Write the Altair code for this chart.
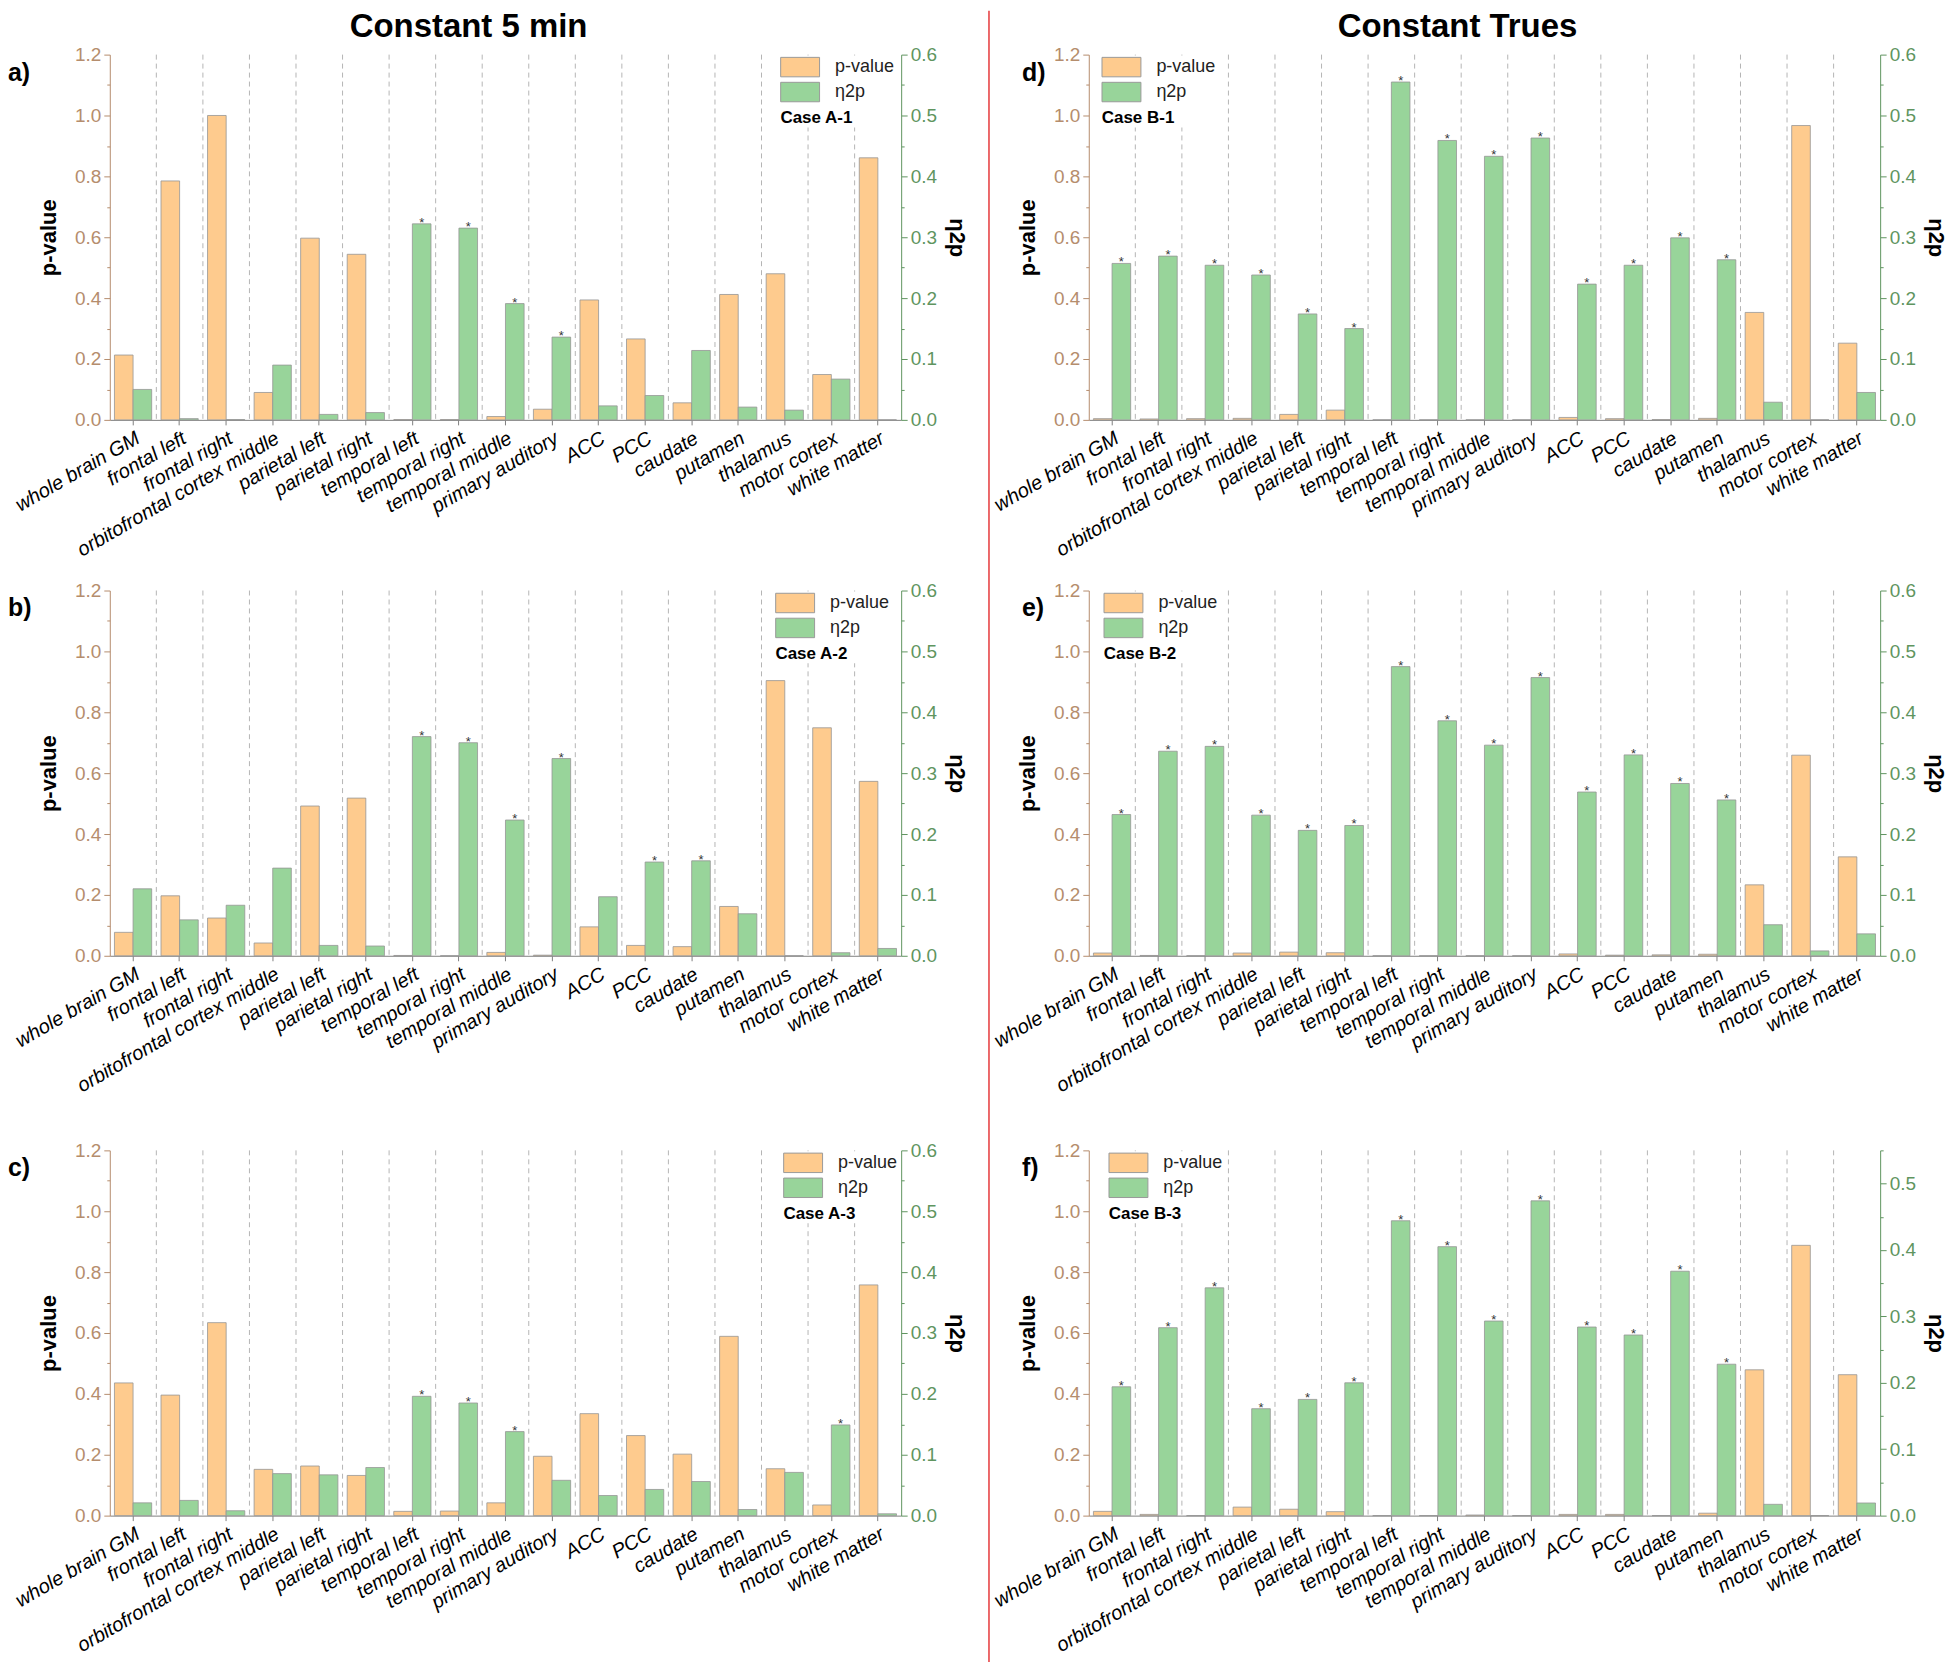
import altair as alt
import pandas as pd

CATEGORIES = ["whole brain GM", "frontal left", "frontal right", "orbitofrontal cortex middle",
              "parietal left", "parietal right", "temporal left", "temporal right",
              "temporal middle", "primary auditory", "ACC", "PCC", "caudate", "putamen",
              "thalamus", "motor cortex", "white matter"]
SERIES = ["p-value", "η2p"]

# Case A-1
P_A1 = [0.213, 0.785, 1.000, 0.090, 0.597, 0.544, 0.001, 0.001, 0.011, 0.035, 0.394, 0.266, 0.056, 0.412, 0.480, 0.149, 0.861]
ETA_A1 = [0.050, 0.002, 0.0005, 0.090, 0.009, 0.012, 0.322, 0.315, 0.191, 0.136, 0.023, 0.040, 0.114, 0.021, 0.016, 0.067, 0.000]
STAR_A1 = [0, 0, 0, 0, 0, 0, 1, 1, 1, 1, 0, 0, 0, 0, 0, 0, 0]
# Case A-2
P_A2 = [0.077, 0.197, 0.124, 0.042, 0.492, 0.518, 0.001, 0.000, 0.011, 0.002, 0.095, 0.034, 0.030, 0.162, 0.904, 0.749, 0.573]
ETA_A2 = [0.110, 0.059, 0.083, 0.144, 0.017, 0.016, 0.360, 0.350, 0.223, 0.324, 0.097, 0.154, 0.156, 0.069, 0.000, 0.005, 0.012]
STAR_A2 = [0, 0, 0, 0, 0, 0, 1, 1, 1, 1, 0, 1, 1, 0, 0, 0, 0]
# Case A-3
P_A3 = [0.436, 0.396, 0.634, 0.152, 0.163, 0.132, 0.014, 0.015, 0.042, 0.195, 0.335, 0.263, 0.202, 0.589, 0.154, 0.035, 0.758]
ETA_A3 = [0.021, 0.025, 0.008, 0.069, 0.067, 0.079, 0.196, 0.185, 0.138, 0.058, 0.033, 0.043, 0.056, 0.010, 0.071, 0.149, 0.003]
STAR_A3 = [0, 0, 0, 0, 0, 0, 1, 1, 1, 0, 0, 0, 0, 0, 0, 1, 0]
# Case B-1
P_B1 = [0.004, 0.003, 0.004, 0.005, 0.018, 0.032, 0.000, 0.000, 0.000, 0.000, 0.008, 0.004, 0.001, 0.005, 0.353, 0.967, 0.252]
ETA_B1 = [0.257, 0.269, 0.254, 0.238, 0.174, 0.150, 0.555, 0.459, 0.433, 0.463, 0.223, 0.254, 0.299, 0.263, 0.029, 0.000, 0.045]
STAR_B1 = [1, 1, 1, 1, 1, 1, 1, 1, 1, 1, 1, 1, 1, 1, 0, 0, 0]
# Case B-2
P_B2 = [0.009, 0.001, 0.000, 0.009, 0.012, 0.010, 0.000, 0.000, 0.000, 0.000, 0.006, 0.002, 0.003, 0.005, 0.233, 0.659, 0.325]
ETA_B2 = [0.232, 0.336, 0.344, 0.231, 0.206, 0.214, 0.475, 0.386, 0.346, 0.457, 0.269, 0.330, 0.283, 0.256, 0.051, 0.008, 0.036]
STAR_B2 = [1, 1, 1, 1, 1, 1, 1, 1, 1, 1, 1, 1, 1, 1, 0, 0, 0]
# Case B-3
P_B3 = [0.014, 0.004, 0.000, 0.028, 0.021, 0.013, 0.000, 0.000, 0.002, 0.000, 0.004, 0.004, 0.000, 0.008, 0.479, 0.888, 0.463]
ETA_B3 = [0.194, 0.283, 0.343, 0.161, 0.175, 0.200, 0.444, 0.405, 0.293, 0.474, 0.284, 0.272, 0.368, 0.228, 0.017, 0.000, 0.019]
STAR_B3 = [1, 1, 1, 1, 1, 1, 1, 1, 1, 1, 1, 1, 1, 1, 0, 0, 0]

P_TICKS = [0.0, 0.1, 0.2, 0.3, 0.4, 0.5, 0.6, 0.7, 0.8, 0.9, 1.0, 1.1, 1.2]
ETA_TICKS = [0.0, 0.05, 0.1, 0.15, 0.2, 0.25, 0.3, 0.35, 0.4, 0.45, 0.5, 0.55, 0.6]

ORANGE = "#FECB8E"
GREEN = "#98D49A"
BROWN = "#B58D6D"
AXGREEN = "#5F955F"
FONT = "Liberation Sans, Arial, sans-serif"

W, H = 793, 366


def panel(letter, case, p_vals, eta_vals, stars, eta_max, leg_x, letter_x,
          title=None, title_dx=0, red_line=False, ext=0):
    # ext: how far (px) the plot area reaches above the layout cell (lets rows sit unevenly)
    p_df = pd.DataFrame({"region": CATEGORIES, "series": SERIES[0], "value": p_vals})
    e_df = pd.DataFrame({"region": CATEGORIES, "series": SERIES[1], "value": eta_vals, "star": stars})
    g_df = pd.DataFrame({"region": CATEGORIES[1:]})
    l_df = pd.DataFrame({"label": [letter]})
    hc = H - ext

    xscale = alt.Scale(domain=CATEGORIES, paddingInner=0, paddingOuter=0)
    xaxis = alt.Axis(title=None, labelAngle=-30, labelAlign="right", labelBaseline="top",
                     labelFont=FONT, labelFontStyle="italic", labelFontSize=20, labelColor="black",
                     labelLimit=0, labelOverlap=False, labelPadding=3,
                     domainColor="#808080", tickColor="#808080", tickSize=5, grid=False)
    x = alt.X("region:N", scale=xscale, axis=xaxis)
    xg = alt.X("region:N", scale=xscale, axis=xaxis, bandPosition=0)
    xoff = alt.XOffset("series:N", scale=alt.Scale(domain=SERIES, paddingInner=0, paddingOuter=0.25))
    color = alt.Color("series:N", scale=alt.Scale(domain=SERIES, range=[ORANGE, GREEN]),
                      legend=alt.Legend(title=case, titleOrient="bottom", titleAnchor="start",
                                        titleFont=FONT, titleFontSize=17, titleFontWeight="bold",
                                        titleColor="black", titlePadding=7,
                                        orient="none", legendX=leg_x, legendY=1 - ext,
                                        symbolType="M-2,-1H2V1H-2Z", symbolSize=380,
                                        symbolOffset=9.25,
                                        symbolStrokeColor="#9a9a9a", symbolStrokeWidth=1,
                                        symbolOpacity=1,
                                        labelFont=FONT, labelFontSize=18, labelColor="#222",
                                        labelOffset=24.5, rowPadding=0, padding=1,
                                        fillColor="white"))

    grid = alt.Chart(g_df).mark_rule(strokeDash=[5, 4], color="#b5b5b5", strokeWidth=1).encode(
        x=xg, y=alt.value(-ext), y2=alt.value(hc))
    letter_mark = alt.Chart(l_df).mark_text(font=FONT, fontSize=25, fontWeight="bold",
                                            align="left", baseline="middle", color="black").encode(
        text="label:N", x=alt.value(letter_x), y=alt.value(18 - ext))

    yrange = dict(rangeMax=-ext) if ext else {}

    p_axis = alt.Axis(orient="left", title="p-value", values=P_TICKS, format=".1f",
                      labelExpr="round(datum.value*10) % 2 == 0 ? format(datum.value, '.1f') : ''",
                      tickSize={"condition": {"test": "round(datum.value*10) % 2 == 1", "value": 3}, "value": 6},
                      labelColor=BROWN, domainColor=BROWN, tickColor=BROWN,
                      labelFont=FONT, labelFontSize=19, titleFont=FONT, titleFontWeight="bold",
                      titleFontSize=22, titleColor="black", grid=False, titlePadding=14, labelPadding=3)
    orange = alt.Chart(p_df).mark_bar(stroke="#959595", strokeWidth=0.8, opacity=1).encode(
        x=x, xOffset=xoff,
        y=alt.Y("value:Q", scale=alt.Scale(domain=[0, 1.2], nice=False, zero=True, **yrange), axis=p_axis),
        color=color)

    eta_ticks = [t for t in ETA_TICKS if t <= eta_max + 1e-9]
    e_axis = alt.Axis(orient="right", title="η2p", values=eta_ticks, format=".1f",
                      labelExpr="round(datum.value*20) % 2 == 0 ? format(datum.value, '.1f') : ''",
                      tickSize={"condition": {"test": "round(datum.value*20) % 2 == 1", "value": 3}, "value": 6},
                      labelColor=AXGREEN, domainColor=AXGREEN, tickColor=AXGREEN,
                      labelFont=FONT, labelFontSize=19, titleFont=FONT, titleFontWeight="bold",
                      titleFontSize=22, titleColor="black", grid=False, titlePadding=8, labelPadding=3)
    ey = alt.Y("value:Q", scale=alt.Scale(domain=[0, eta_max], nice=False, zero=True, **yrange), axis=e_axis)
    green = alt.Chart(e_df).mark_bar(stroke="#959595", strokeWidth=0.8, opacity=1).encode(
        x=x, xOffset=xoff, y=ey, color=color)
    star_mark = alt.Chart(e_df).transform_filter("datum.star == 1").mark_text(
        text="*", font=FONT, fontSize=13, color="#333", baseline="alphabetic", dy=3).encode(
        x=x, xOffset=xoff, y=ey)

    left_layers = [grid, orange, letter_mark]
    if title:
        t_df = pd.DataFrame({"title": [title]})
        left_layers.append(
            alt.Chart(t_df).mark_text(font=FONT, fontSize=33, fontWeight="bold", align="center",
                                      baseline="middle", color="black").encode(
                text="title:N", x=alt.value(W / 2 + title_dx), y=alt.value(-28)))
    if red_line:
        left_layers.append(
            alt.Chart(l_df).mark_rule(color="#E5393B", strokeWidth=1.5).encode(
                x=alt.value(-100), y=alt.value(-44), y2=alt.value(1620)))
    ch = alt.layer(alt.layer(*left_layers), alt.layer(green, star_mark)).resolve_scale(y="independent")
    return ch.properties(width=W, height=hc)


ROW2_EXT = 24

a = panel("a)", "Case A-1", P_A1, ETA_A1, STAR_A1, 0.6, 671, -102, title="Constant 5 min", title_dx=-37)
b = panel("b)", "Case A-2", P_A2, ETA_A2, STAR_A2, 0.6, 666, -102, ext=ROW2_EXT)
c = panel("c)", "Case A-3", P_A3, ETA_A3, STAR_A3, 0.6, 674, -102)
d = panel("d)", "Case B-1", P_B1, ETA_B1, STAR_B1, 0.6, 12, -67, title="Constant Trues", title_dx=-27, red_line=True)
e = panel("e)", "Case B-2", P_B2, ETA_B2, STAR_B2, 0.6, 14, -67, ext=ROW2_EXT)
f = panel("f)", "Case B-3", P_B3, ETA_B3, STAR_B3, 0.55, 19, -67)

chart = alt.concat(a, d, b, e, c, f, columns=2, spacing={"row": 195, "column": 188},
                   bounds="flush").resolve_scale(color="independent").resolve_legend(
    color="independent").properties(
    padding={"left": 0, "top": 0, "right": 5, "bottom": 5},
    background="white"
).configure_view(stroke=None)

chart.save("out.html", embed_options={"renderer": "svg", "actions": False})
